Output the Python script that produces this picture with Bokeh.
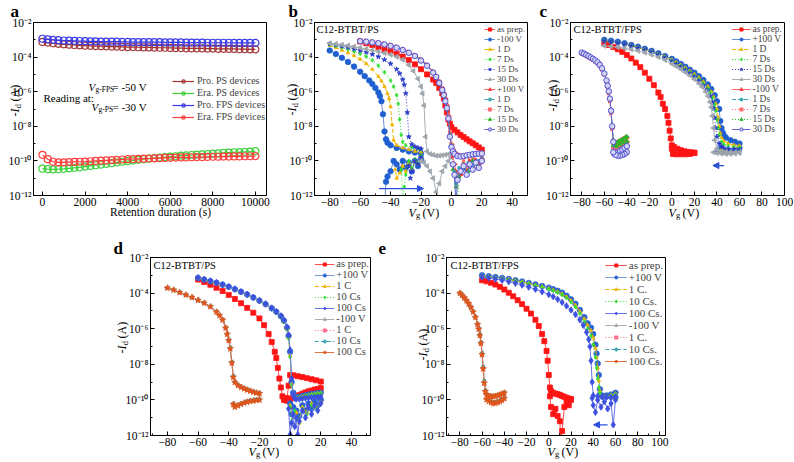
import math
from bokeh.plotting import figure
from bokeh.models import (Range1d, FixedTicker, CustomJSTickFormatter, Label, Legend,
                          LegendItem, Arrow, NormalHead, Spacer, GridBox)
from bokeh.layouts import row
from bokeh.embed import file_html
from bokeh.resources import INLINE

SERIF = "Liberation Serif"

# ---------------------------------------------------------------- data (log10 of -Id)
# panel a : retention
a_time = [0, 250, 500, 750, 1000, 1250, 1500, 1750, 2000, 2250, 2500, 2750, 3000, 3250, 3500,
          3750, 4000, 4250, 4500, 4750, 5000, 5250, 5500, 5750, 6000, 6250, 6500, 6750, 7000,
          7250, 7500, 7750, 8000, 8250, 8500, 8750, 9000, 9250, 9500, 9750, 10000]
a_pro_ps = [-3.12, -3.16, -3.2, -3.23, -3.26, -3.28, -3.3, -3.32, -3.34, -3.35, -3.36, -3.37, -3.38,
            -3.39, -3.4, -3.41, -3.42, -3.42, -3.43, -3.44, -3.44, -3.45, -3.46, -3.46, -3.47, -3.48,
            -3.48, -3.49, -3.49, -3.5, -3.5, -3.51, -3.51, -3.52, -3.52, -3.53, -3.53, -3.54, -3.54,
            -3.55, -3.55]
a_era_ps = [-10.45, -10.48, -10.49, -10.48, -10.46, -10.43, -10.4, -10.37, -10.33, -10.29, -10.25,
            -10.21, -10.17, -10.13, -10.09, -10.05, -10.01, -9.97, -9.94, -9.9, -9.87, -9.84, -9.81,
            -9.78, -9.75, -9.73, -9.7, -9.68, -9.66, -9.64, -9.62, -9.6, -9.58, -9.56, -9.54, -9.52,
            -9.5, -9.49, -9.47, -9.46, -9.44]
a_pro_fps = [-2.94, -2.97, -3.0, -3.02, -3.04, -3.05, -3.06, -3.07, -3.08, -3.09, -3.09, -3.1, -3.1,
             -3.11, -3.11, -3.12, -3.12, -3.13, -3.13, -3.13, -3.14, -3.14, -3.14, -3.15, -3.15,
             -3.15, -3.15, -3.16, -3.16, -3.16, -3.16, -3.17, -3.17, -3.17, -3.17, -3.17, -3.18,
             -3.18, -3.18, -3.18, -3.18]
a_era_fps = [-9.65, -9.9, -10.05, -10.08, -10.08, -10.07, -10.06, -10.05, -10.04, -10.02, -10.0,
             -9.98, -9.97, -9.95, -9.94, -9.92, -9.9, -9.89, -9.88, -9.87, -9.86, -9.85, -9.84,
             -9.83, -9.82, -9.81, -9.8, -9.8, -9.79, -9.78, -9.78, -9.77, -9.76, -9.76, -9.75,
             -9.75, -9.74, -9.74, -9.73, -9.73, -9.72]
a_labels = ["Pro. PS devices", "Era. PS devices", "Pro. FPS devices", "Era. FPS devices"]

# panel b : C12-BTBT/PS, retention after -100 V / +100 V
b_prep_vg = [-60, -56, -52, -48, -44, -40, -36, -32, -28, -24, -20, -16, -12, -10, -8, -6, -5, -4, -3,
             -2, -1, 0, 2, 4, 6, 8, 10, 12, 14, 16, 18, 20]
b_prep_lg = [-3.1, -3.2, -3.3, -3.42, -3.54, -3.66, -3.8, -3.97, -4.17, -4.42, -4.7, -5.0, -5.3, -5.5,
             -5.78, -6.1, -6.4, -6.8, -7.2, -7.6, -7.85, -8.05, -8.2, -8.35, -8.5, -8.62, -8.75, -8.87,
             -8.98, -9.1, -9.22, -9.35]
b_m100_vg = [-80, -76, -72, -68, -64, -60, -57, -54, -52, -50, -48, -47, -46, -45, -44, -43, -42, -40,
             -36, -32, -28, -24, -20]
b_m100_lg = [-3.62, -3.82, -4.04, -4.28, -4.55, -4.85, -5.1, -5.35, -5.55, -5.78, -6.05, -6.25, -6.55,
             -7.3, -8.3, -8.75, -8.95, -9.1, -9.25, -9.35, -9.45, -9.52, -9.58]
b_m100_ret = [(-20, -9.9), (-22, -10.3), (-24, -10.0), (-26, -10.6), (-28, -10.1), (-30, -10.4),
              (-32, -10.0), (-34, -10.5), (-36, -10.2), (-38, -10.0), (-40, -10.6), (-42, -10.9),
              (-43, -11.2), (-44, -12.5)]
b_1d_vg = [-80, -76, -72, -68, -64, -60, -56, -52, -48, -46, -44, -42, -41, -40, -39, -38, -36, -32,
           -28, -24, -20]
b_1d_lg = [-3.33, -3.45, -3.6, -3.75, -3.92, -4.12, -4.38, -4.7, -5.12, -5.38, -5.7, -6.1, -6.4,
           -6.85, -7.9, -8.8, -9.1, -9.25, -9.35, -9.45, -9.5]
b_1d_ret = [(-20, -9.8), (-22, -10.2), (-24, -10.0), (-26, -10.5), (-28, -10.1), (-30, -10.6),
            (-32, -10.3), (-34, -10.7), (-36, -11.0), (-37, -10.5)]
b_7d_vg = [-80, -76, -72, -68, -64, -60, -56, -52, -48, -44, -40, -38, -36, -35, -34, -33, -32, -30,
           -26, -22, -20]
b_7d_lg = [-3.27, -3.36, -3.45, -3.55, -3.67, -3.8, -3.97, -4.18, -4.5, -4.88, -5.35, -5.7, -6.2,
           -6.7, -7.6, -8.5, -8.9, -9.1, -9.22, -9.3, -9.33]
b_7d_ret = [(-20, -9.7), (-22, -10.1), (-24, -9.9), (-26, -10.4), (-28, -10.0), (-30, -10.8),
            (-31, -11.5), (-32, -12.5), (-33, -10.5)]
b_15d_vg = [-80, -76, -72, -68, -64, -60, -56, -52, -48, -44, -40, -36, -34, -32, -31, -30, -29, -28,
            -26, -24, -22, -20]
b_15d_lg = [-3.23, -3.3, -3.37, -3.44, -3.52, -3.62, -3.72, -3.84, -3.98, -4.15, -4.38, -4.7, -4.95,
            -5.3, -5.6, -6.1, -7.2, -8.6, -9.05, -9.18, -9.25, -9.3]
b_15d_ret = [(-20, -9.8), (-22, -10.2), (-24, -10.0), (-26, -10.6), (-27, -11.0), (-28, -10.3)]
b_30d_vg = [-80, -76, -72, -68, -64, -60, -56, -52, -48, -44, -40, -36, -32, -28, -25, -22, -20, -19,
            -18, -17, -16, -14, -12, -10, -8, -6, -4, -2, 0]
b_30d_lg = [-3.2, -3.24, -3.28, -3.33, -3.39, -3.46, -3.53, -3.6, -3.68, -3.77, -3.86, -3.98, -4.15,
            -4.45, -4.8, -5.25, -5.7, -6.1, -6.8, -8.6, -9.45, -9.6, -9.65, -9.7, -9.7, -9.68, -9.65,
            -9.62, -9.6]
b_30d_ret = [(0, -9.8), (-2, -10.0), (-4, -10.3), (-6, -10.6), (-8, -11.3), (-10, -11.8), (-12, -11.0),
             (-14, -10.6), (-16, -10.3), (-18, -10.1), (-20, -10.0)]
b_pos_vg = [-60, -56, -52, -48, -44, -40, -36, -32, -28, -24, -20, -16, -12, -10, -8, -6, -5, -4, -3,
            -2, -1, 0, 1, 2, 4, 6, 8, 10, 12, 14, 16, 18, 20]
b_p100_lg = [-3.05, -3.08, -3.12, -3.17, -3.24, -3.32, -3.43, -3.56, -3.72, -3.9, -4.15, -4.45, -4.85,
             -5.1, -5.4, -5.8, -6.1, -6.4, -6.8, -7.4, -8.4, -9.05, -9.35, -9.5, -9.65, -9.7, -9.72,
             -9.7, -9.68, -9.65, -9.62, -9.6, -9.58]
b_p100_ret = [(20, -9.9), (18, -10.2), (16, -9.95), (14, -10.4), (12, -10.0), (10, -10.6), (8, -10.2),
              (6, -10.8), (4, -11.0), (3, -10.6), (2, -10.2), (1, -9.7)]
b_p1d_lg = [-3.06, -3.09, -3.13, -3.18, -3.25, -3.33, -3.44, -3.57, -3.73, -3.92, -4.17, -4.47, -4.88,
            -5.13, -5.45, -5.85, -6.15, -6.45, -6.85, -7.45, -8.45, -9.1, -9.4, -9.55, -9.7, -9.75,
            -9.73, -9.7, -9.66, -9.63, -9.6, -9.58, -9.56]
b_p1d_ret = [(20, -9.8), (17, -10.0), (14, -10.3), (11, -10.1), (8, -10.5), (5, -10.4), (3, -11.3),
             (2, -10.6)]
b_p7d_lg = [-3.04, -3.07, -3.11, -3.16, -3.23, -3.31, -3.42, -3.55, -3.71, -3.89, -4.13, -4.43, -4.82,
            -5.07, -5.38, -5.77, -6.08, -6.38, -6.78, -7.35, -8.35, -9.0, -9.3, -9.45, -9.6, -9.68,
            -9.7, -9.68, -9.65, -9.62, -9.6, -9.57, -9.55]
b_p7d_ret = [(20, -9.75), (17, -10.1), (14, -9.9), (11, -10.4), (8, -10.0), (5, -10.7), (3, -11.0),
             (1, -10.2)]
b_p15d_lg = [-3.07, -3.1, -3.14, -3.19, -3.26, -3.34, -3.45, -3.58, -3.74, -3.93, -4.18, -4.49, -4.9,
             -5.16, -5.48, -5.88, -6.2, -6.5, -6.9, -7.5, -8.5, -9.1, -9.4, -9.6, -9.72, -9.76, -9.74,
             -9.71, -9.68, -9.64, -9.61, -9.59, -9.57]
b_p15d_ret = [(20, -9.9), (17, -10.2), (14, -10.0), (11, -10.6), (8, -10.2), (5, -10.9), (4, -12.5),
              (3, -11.5), (1, -10.5)]
b_p30d_lg = [-3.08, -3.11, -3.15, -3.2, -3.27, -3.35, -3.46, -3.59, -3.75, -3.94, -4.2, -4.5, -4.9,
             -5.15, -5.5, -5.9, -6.2, -6.55, -6.95, -7.55, -8.6, -9.2, -9.45, -9.6, -9.72, -9.75,
             -9.72, -9.68, -9.65, -9.62, -9.6, -9.58, -9.57]
b_p30d_ret = [(20, -10.0), (18, -10.4), (16, -10.1), (14, -10.5), (12, -10.2), (10, -10.8), (8, -10.3),
              (6, -10.6), (4, -11.1), (3, -12.5), (2, -10.8), (1, -10.2)]
b_labels = ["as prep.", "-100 V", "1 D", "7 Ds", "15 Ds", "30 Ds", "+100 V", "1 D", "7 Ds", "15 Ds",
            "30 Ds"]
b_arrow_vg = [-47.6, -18.4]
b_arrow_lg = -11.6

# panel c : C12-BTBT/FPS
c_prep_vg = [-60, -56, -52, -48, -44, -40, -36, -32, -28, -24, -20, -16, -12, -10, -8, -6, -4, -3, -2,
             -1, 0, 2, 5, 8, 11, 14, 17, 20]
c_prep_lg = [-3.2, -3.3, -3.42, -3.55, -3.7, -3.88, -4.08, -4.32, -4.58, -4.9, -5.25, -5.62, -6.05,
             -6.3, -6.7, -7.0, -7.4, -7.8, -8.25, -8.7, -9.1, -9.2, -9.3, -9.38, -9.44, -9.48, -9.5,
             -9.52]
c_prep_ret = [(20, -9.55), (16, -9.6), (12, -9.62), (8, -9.62), (4, -9.62), (1, -9.6), (0, -9.3)]
c_p100_vg = [-60, -54, -48, -42, -36, -30, -24, -18, -12, -6, 0, 4, 8, 12, 16, 20, 24, 28, 32, 35, 38,
             40, 42, 43, 44, 45, 46, 48, 52, 56, 60]
c_p100_lg = [-3.0, -3.05, -3.11, -3.2, -3.3, -3.4, -3.52, -3.64, -3.78, -3.94, -4.1, -4.25, -4.4,
             -4.56, -4.73, -4.9, -5.1, -5.32, -5.58, -5.85, -6.2, -6.55, -7.0, -7.7, -8.1, -8.35,
             -8.5, -8.65, -8.8, -8.9, -9.0]
c_p100_ret = [(60, -9.25), (56, -9.4), (52, -9.45), (48, -9.45), (45, -9.4), (43, -9.3)]
c_1d_vg = [-60, -54, -48, -42, -36, -30, -24, -18, -12, -6, 0, 4, 8, 12, 16, 20, 24, 28, 32, 35, 37,
           39, 40, 41, 42, 43, 44, 46, 50, 55, 60]
c_1d_lg = [-3.05, -3.1, -3.16, -3.24, -3.33, -3.43, -3.55, -3.67, -3.81, -3.97, -4.15, -4.3, -4.46,
           -4.62, -4.8, -4.98, -5.18, -5.42, -5.7, -6.0, -6.3, -6.7, -7.0, -7.5, -8.0, -8.4, -8.65,
           -8.85, -9.0, -9.08, -9.12]
c_1d_ret = [(60, -9.3), (55, -9.4), (50, -9.45), (46, -9.45), (43, -9.4)]
c_7d_vg = [-60, -54, -48, -42, -36, -30, -24, -18, -12, -6, 0, 4, 8, 12, 16, 20, 24, 28, 32, 34, 36,
           38, 39, 40, 41, 42, 44, 46, 50, 55, 60]
c_7d_lg = [-3.06, -3.11, -3.17, -3.25, -3.34, -3.45, -3.57, -3.7, -3.84, -4.0, -4.2, -4.36, -4.52,
           -4.7, -4.88, -5.07, -5.28, -5.52, -5.82, -6.05, -6.35, -6.75, -7.1, -7.6, -8.1, -8.5, -8.9,
           -9.05, -9.15, -9.2, -9.22]
c_7d_ret = [(60, -9.35), (55, -9.45), (50, -9.5), (45, -9.5), (42, -9.45)]
c_15d_vg = [-60, -54, -48, -42, -36, -30, -24, -18, -12, -6, 0, 4, 8, 12, 16, 20, 24, 28, 31, 34, 36,
            37, 38, 39, 40, 42, 44, 46, 50, 55, 60]
c_15d_lg = [-3.08, -3.13, -3.19, -3.27, -3.36, -3.47, -3.59, -3.72, -3.87, -4.04, -4.25, -4.41,
            -4.58, -4.76, -4.95, -5.15, -5.38, -5.65, -5.9, -6.25, -6.6, -6.95, -7.5, -8.1, -8.6,
            -9.0, -9.15, -9.25, -9.3, -9.32, -9.34]
c_15d_ret = [(60, -9.45), (55, -9.5), (50, -9.52), (45, -9.52), (40, -9.48)]
c_30d_vg = [-60, -54, -48, -42, -36, -30, -24, -18, -12, -6, 0, 4, 8, 12, 16, 20, 24, 27, 30, 32, 34,
            35, 36, 37, 38, 40, 44, 48, 52, 56, 60]
c_30d_lg = [-3.35, -3.38, -3.43, -3.49, -3.56, -3.64, -3.74, -3.86, -4.0, -4.17, -4.38, -4.54, -4.7,
            -4.88, -5.07, -5.28, -5.52, -5.73, -6.0, -6.25, -6.6, -6.9, -7.4, -8.1, -8.8, -9.3,
            -9.45, -9.48, -9.5, -9.5, -9.48]
c_30d_ret = [(60, -9.55), (56, -9.58), (52, -9.6), (48, -9.6), (44, -9.58), (40, -9.55), (37, -9.5)]
c_neg_vg = [-80, -78, -76, -74, -72, -70, -68, -66, -64, -62, -60, -58, -57, -56, -55, -54, -53, -52,
            -51, -50, -48, -46, -44, -42, -40]
c_m100_lg = [-3.77, -3.83, -3.9, -3.97, -4.05, -4.13, -4.22, -4.33, -4.48, -4.68, -4.98, -5.4, -5.7,
             -6.05, -6.5, -7.2, -8.1, -8.9, -9.1, -9.0, -8.95, -8.88, -8.8, -8.72, -8.65]
c_m100_ret = [(-40, -8.9), (-42, -9.0), (-44, -9.1), (-46, -9.2), (-48, -9.3), (-50, -9.35), (-52, -9.3)]
c_m1d_lg = [-3.76, -3.82, -3.89, -3.96, -4.04, -4.12, -4.21, -4.32, -4.47, -4.67, -4.97, -5.38, -5.68,
            -6.02, -6.45, -7.15, -8.05, -8.85, -9.05, -8.98, -8.92, -8.85, -8.78, -8.7, -8.62]
c_m1d_ret = [(-40, -8.95), (-43, -9.05), (-46, -9.15), (-49, -9.25), (-52, -9.2)]
c_m7d_lg = [-3.78, -3.84, -3.91, -3.98, -4.06, -4.14, -4.23, -4.34, -4.5, -4.7, -5.0, -5.42, -5.72,
            -6.08, -6.55, -7.25, -8.15, -8.95, -9.15, -9.05, -8.98, -8.9, -8.82, -8.74, -8.67]
c_m7d_ret = [(-40, -9.0), (-43, -9.1), (-46, -9.2), (-49, -9.3), (-52, -9.25)]
c_m15d_lg = [-3.75, -3.81, -3.88, -3.95, -4.03, -4.11, -4.2, -4.31, -4.46, -4.66, -4.96, -5.37, -5.67,
             -6.0, -6.42, -7.1, -8.0, -8.8, -9.0, -8.95, -8.9, -8.83, -8.76, -8.68, -8.6]
c_m15d_ret = [(-40, -8.85), (-43, -8.95), (-46, -9.05), (-49, -9.15), (-52, -9.1)]
c_m30d_lg = [-3.74, -3.8, -3.87, -3.94, -4.02, -4.1, -4.19, -4.3, -4.45, -4.65, -4.95, -5.35, -5.65,
             -5.98, -6.4, -7.1, -8.0, -8.9, -9.6, -9.55, -9.5, -9.42, -9.35, -9.25, -9.15]
c_m30d_ret = [(-40, -9.5), (-42, -9.6), (-44, -9.65), (-46, -9.7), (-48, -9.7), (-50, -9.65), (-52, -9.5)]
c_labels = ["as prep.", "+100 V", "1 D", "7 Ds", "15 Ds", "30 Ds", "-100 V", "1 Ds", "7 Ds", "15 Ds",
            "30 Ds"]
c_arrow_vg = [46.4, 36.4]
c_arrow_lg = -10.27

# panel d : C12-BTBT/PS, cycling
d_prep_vg = [-60, -56, -52, -48, -44, -40, -36, -32, -28, -24, -20, -17, -14, -12, -10, -9, -8, -7, -6,
             -5, -4, -2, 0, 2, 4, 6, 8, 10, 12, 14, 16, 18, 20]
d_prep_lg = [-3.24, -3.38, -3.53, -3.7, -3.88, -4.1, -4.33, -4.57, -4.83, -5.1, -5.42, -5.8, -6.3,
             -6.75, -7.3, -7.65, -8.2, -8.8, -9.3, -9.8, -10.0, -10.05, -10.0, -9.88, -9.8, -9.72,
             -9.65, -9.58, -9.52, -9.47, -9.42, -9.38, -9.34]
d_prep_ret = [(20, -8.97), (17, -8.9), (14, -8.84), (11, -8.78), (8, -8.72), (5, -8.67), (2, -8.62),
              (0, -8.6), (-1, -9.2), (-2, -9.9)]
d_pos_vg = [-60, -56, -52, -48, -44, -40, -36, -32, -28, -24, -20, -16, -12, -9, -6, -4, -2, -1, 0, 1,
            2, 3, 4, 6, 8, 10, 12, 14, 16, 18, 20]
d_p100_lg = [-3.15, -3.24, -3.33, -3.42, -3.53, -3.65, -3.78, -3.93, -4.08, -4.25, -4.43, -4.62, -4.85,
             -5.05, -5.3, -5.55, -5.95, -6.4, -7.3, -9.0, -9.6, -9.8, -9.85, -9.82, -9.78, -9.74, -9.7,
             -9.67, -9.64, -9.62, -9.6]
d_p100_ret = [(20, -10.0), (18, -10.3), (16, -10.1), (14, -10.5), (12, -10.2), (10, -10.6), (8, -10.3),
              (6, -10.9), (4, -10.6), (2, -10.4), (1, -10.8), (0, -10.2)]
d_1c_lg = [-3.16, -3.25, -3.34, -3.43, -3.54, -3.66, -3.79, -3.94, -4.09, -4.26, -4.45, -4.64, -4.87,
           -5.07, -5.33, -5.58, -6.0, -6.5, -7.5, -9.1, -9.65, -9.82, -9.86, -9.83, -9.8, -9.76, -9.72,
           -9.69, -9.66, -9.63, -9.61]
d_1c_ret = [(20, -10.1), (17, -10.4), (14, -10.2), (11, -10.7), (8, -10.4), (6, -11.3), (4, -10.7),
            (2, -11.0), (0, -10.3)]
d_10c_lg = [-3.17, -3.26, -3.35, -3.44, -3.55, -3.67, -3.8, -3.95, -4.1, -4.27, -4.46, -4.66, -4.9,
            -5.1, -5.36, -5.62, -6.05, -6.55, -7.6, -9.2, -9.7, -9.84, -9.87, -9.85, -9.82, -9.78,
            -9.74, -9.71, -9.68, -9.65, -9.63]
d_10c_ret = [(20, -10.2), (17, -10.5), (14, -10.3), (11, -10.8), (8, -10.5), (5, -11.1), (3, -10.6),
             (1, -11.2), (0, -10.4)]
d_100c_lg = [-3.14, -3.23, -3.32, -3.41, -3.52, -3.64, -3.77, -3.92, -4.07, -4.24, -4.42, -4.61,
             -4.84, -5.04, -5.28, -5.52, -5.9, -6.35, -7.2, -8.8, -9.7, -9.9, -9.95, -9.95, -9.92,
             -9.9, -9.88, -9.86, -9.85, -9.84, -9.83]
d_100c_ret = [(20, -10.2), (18, -10.6), (16, -10.3), (14, -10.8), (12, -10.4), (10, -11.0), (8, -10.6),
              (6, -11.2), (5, -11.95), (4, -11.0), (3, -11.5), (2, -10.8), (1, -11.3), (0, -11.95),
              (-1, -10.5)]
d_neg_vg = [-80, -76, -72, -68, -64, -60, -56, -52, -48, -46, -44, -42, -41, -40, -39, -38, -37, -36,
            -34, -32, -30, -28, -26, -24, -22, -20]
d_m100_lg = [-3.71, -3.82, -3.96, -4.1, -4.24, -4.4, -4.56, -4.75, -5.05, -5.25, -5.5, -5.95, -6.3,
             -6.65, -7.1, -7.9, -8.7, -9.0, -9.18, -9.28, -9.36, -9.43, -9.49, -9.55, -9.6, -9.63]
d_m100_ret = [(-20, -9.98), (-22, -10.0), (-24, -10.03), (-26, -10.06), (-28, -10.1), (-30, -10.15),
              (-32, -10.22), (-34, -10.3), (-36, -10.38), (-37, -10.2)]
d_m1c_lg = [-3.72, -3.83, -3.97, -4.11, -4.25, -4.41, -4.57, -4.77, -5.07, -5.27, -5.53, -5.98, -6.33,
            -6.7, -7.15, -7.95, -8.75, -9.02, -9.2, -9.3, -9.38, -9.45, -9.51, -9.56, -9.61, -9.64]
d_m1c_ret = [(-20, -10.0), (-23, -10.02), (-26, -10.05), (-29, -10.12), (-32, -10.2), (-35, -10.32),
             (-37, -10.25)]
d_m10c_lg = [-3.7, -3.81, -3.95, -4.09, -4.23, -4.39, -4.55, -4.74, -5.03, -5.23, -5.48, -5.92, -6.27,
             -6.62, -7.05, -7.85, -8.65, -8.98, -9.16, -9.26, -9.34, -9.41, -9.47, -9.53, -9.58, -9.61]
d_m10c_ret = [(-20, -9.95), (-23, -9.98), (-26, -10.02), (-29, -10.08), (-32, -10.18), (-35, -10.3),
              (-37, -10.22)]
d_m100c_lg = [-3.71, -3.82, -3.96, -4.1, -4.24, -4.4, -4.56, -4.76, -5.06, -5.26, -5.51, -5.96, -6.31,
              -6.66, -7.12, -7.92, -8.72, -9.01, -9.19, -9.29, -9.37, -9.44, -9.5, -9.56, -9.61, -9.64]
d_m100c_ret = [(-20, -10.0), (-22, -10.02), (-24, -10.05), (-26, -10.08), (-28, -10.12), (-30, -10.17),
               (-32, -10.24), (-34, -10.32), (-36, -10.4), (-37, -10.25)]
d_labels = ["as prep.", "+100 V", "1 C", "10 Cs", "100 Cs", "-100 V", "1 C", "10 Cs", "100 Cs"]

# panel e : C12-BTBT/FPS, cycling
e_prep_vg = [-60, -56, -52, -48, -44, -40, -36, -32, -28, -24, -20, -16, -12, -9, -6, -4, -2, -1, 0, 1,
             2, 4, 6, 8, 10, 12, 14, 16, 18, 20]
e_prep_lg = [-3.28, -3.34, -3.42, -3.52, -3.65, -3.8, -3.98, -4.18, -4.4, -4.62, -4.88, -5.15, -5.5,
             -5.85, -6.3, -6.7, -7.25, -7.8, -8.6, -9.3, -9.5, -9.6, -9.65, -9.68, -9.72, -9.78, -9.83,
             -9.88, -9.92, -9.95]
e_prep_ret = [(20, -10.0), (18, -10.3), (16, -10.1), (14, -10.4), (12, -11.75), (11, -12.5), (10, -11.2),
              (8, -10.9), (6, -10.5), (4, -10.8), (2, -10.4), (1, -9.8)]
e_pos_vg = [-60, -54, -48, -42, -36, -30, -24, -18, -12, -6, 0, 4, 8, 12, 16, 20, 24, 28, 32, 35, 38,
            40, 42, 43, 44, 45, 46, 48, 52, 56, 60]
e_p100_lg = [-3.0, -3.05, -3.1, -3.15, -3.21, -3.28, -3.35, -3.43, -3.51, -3.6, -3.7, -3.78, -3.87,
             -3.98, -4.15, -4.35, -4.6, -4.95, -5.35, -5.7, -5.95, -6.3, -6.9, -7.4, -7.95, -8.6, -9.4,
             -9.75, -9.8, -9.83, -9.86]
e_p100_ret = [(60, -9.6), (56, -9.7), (52, -9.75), (48, -9.8), (46, -9.7)]
e_1c_lg = [-3.02, -3.07, -3.12, -3.17, -3.23, -3.3, -3.37, -3.45, -3.54, -3.63, -3.74, -3.82, -3.92,
           -4.04, -4.21, -4.42, -4.68, -5.03, -5.45, -5.8, -6.1, -6.5, -7.1, -7.6, -8.2, -8.9, -9.5,
           -9.78, -9.82, -9.85, -9.88]
e_1c_ret = [(60, -9.65), (56, -9.72), (52, -9.78), (48, -9.82), (45, -9.75)]
e_10c_lg = [-3.04, -3.09, -3.14, -3.19, -3.25, -3.32, -3.4, -3.48, -3.57, -3.67, -3.78, -3.87, -3.97,
            -4.1, -4.28, -4.5, -4.78, -5.15, -5.6, -6.0, -6.4, -6.9, -7.6, -8.2, -8.8, -9.3, -9.6,
            -9.8, -9.84, -9.86, -9.88]
e_10c_ret = [(60, -9.7), (56, -9.75), (52, -9.8), (48, -9.85), (44, -9.8)]
e_100c_vg = [-60, -54, -48, -42, -36, -30, -24, -18, -12, -6, 0, 4, 8, 12, 16, 20, 24, 28, 31, 34, 36,
             37, 38, 39, 40, 44, 48, 52, 56, 60]
e_100c_lg = [-3.1, -3.15, -3.21, -3.28, -3.36, -3.45, -3.55, -3.66, -3.78, -3.92, -4.08, -4.2, -4.35,
             -4.52, -4.72, -4.95, -5.2, -5.5, -5.8, -6.2, -6.6, -7.0, -7.8, -9.0, -9.75, -9.8, -9.82,
             -9.85, -9.85, -9.82]
e_100c_ret = [(60, -10.0), (58, -11.4), (56, -10.2), (53, -10.5), (50, -10.1), (47, -10.4), (44, -10.0),
              (42, -10.7), (40, -10.3), (39, -9.9)]
e_neg_vg = [-80, -78, -76, -74, -72, -70, -68, -66, -64, -63, -62, -61, -60, -59, -58, -57, -56, -54,
            -52, -50, -48, -46, -44, -42, -40]
e_m100_lg = [-4.0, -4.12, -4.26, -4.42, -4.6, -4.8, -5.05, -5.35, -5.75, -6.0, -6.35, -6.8, -7.4, -8.2,
             -9.0, -9.5, -9.7, -9.78, -9.8, -9.8, -9.78, -9.74, -9.7, -9.65, -9.6]
e_m100_ret = [(-40, -9.9), (-42, -10.0), (-44, -10.05), (-46, -10.1), (-48, -10.15), (-50, -10.15),
              (-52, -10.1), (-54, -10.05), (-56, -9.95)]
e_m1c_lg = [-4.01, -4.13, -4.27, -4.43, -4.61, -4.82, -5.07, -5.38, -5.78, -6.04, -6.4, -6.85, -7.5,
            -8.3, -9.1, -9.55, -9.72, -9.8, -9.82, -9.82, -9.8, -9.76, -9.72, -9.67, -9.62]
e_m1c_ret = [(-40, -9.95), (-43, -10.05), (-46, -10.12), (-49, -10.18), (-52, -10.12), (-55, -10.0)]
e_m10c_lg = [-3.99, -4.11, -4.25, -4.41, -4.59, -4.79, -5.04, -5.33, -5.72, -5.97, -6.3, -6.75, -7.35,
             -8.1, -8.9, -9.45, -9.68, -9.76, -9.78, -9.78, -9.76, -9.72, -9.68, -9.63, -9.58]
e_m10c_ret = [(-40, -9.85), (-43, -9.95), (-46, -10.05), (-49, -10.12), (-52, -10.08), (-55, -9.98)]
e_m100c_lg = [-4.0, -4.12, -4.26, -4.42, -4.6, -4.81, -5.06, -5.36, -5.76, -6.02, -6.38, -6.82, -7.45,
              -8.25, -9.05, -9.52, -9.71, -9.79, -9.81, -9.81, -9.79, -9.75, -9.71, -9.66, -9.61]
e_m100c_ret = [(-40, -9.92), (-42, -10.02), (-44, -10.08), (-46, -10.14), (-48, -10.18), (-50, -10.2),
               (-52, -10.14), (-54, -10.08), (-56, -9.98)]
e_labels = ["as prep.", "+100 V", "1 C.", "10 Cs.", "100 Cs.", "-100 V", "1 C.", "10 Cs.", "100 Cs."]
e_arrow_vg = [52.9, 40.3]
e_arrow_lg = -11.4

Y_TICKS = [1e-12, 1e-10, 1e-8, 1e-6, 1e-4, 1e-2]
Y_MINOR = [1e-11, 1e-9, 1e-7, 1e-5, 1e-3]

# ---------------------------------------------------------------- styles
PI2 = math.pi / 2
ST_BC = [
    dict(c="#ff1414", lc="#ff4c4c", m="square", s=5, d="solid", f=None, a=0),
    dict(c="#1f5fd0", lc="#6a8fd8", m="circle", s=5.5, d="solid", f=None, a=0),
    dict(c="#f0b400", lc="#f0b400", m="triangle", s=3.5, d="4 2", f=None, a=0),
    dict(c="#2ee02e", lc="#2ee02e", m="diamond", s=4, d="1 2", f=None, a=0),
    dict(c="#2a3cc8", lc="#2a3cc8", m="star", s=5, d="1 2", f=None, a=0),
    dict(c="#9ea6ac", lc="#a8b0b4", m="triangle", s=5, d="solid", f=None, a=PI2),
    dict(c="#ff3030", lc="#ff6464", m="triangle", s=5, d="solid", f=None, a=-PI2),
    dict(c="#3aa8b0", lc="#3aa8b0", m="circle", s=3, d="4 2", f=None, a=0),
    dict(c="#ff6a6a", lc="#ff6a6a", m="square", s=2.5, d="1 2", f=None, a=0),
    dict(c="#22b822", lc="#22b822", m="triangle", s=4, d="1 2", f=None, a=0),
    dict(c="#5050d0", lc="#6464d8", m="circle", s=5.5, d="solid", f="#d4d4f4", a=0),
]
ST_DE = [
    dict(c="#ff1414", lc="#ff4c4c", m="square", s=5, d="solid", f=None, a=0),
    dict(c="#2a62d6", lc="#7a9ae0", m="circle", s=5.5, d="solid", f=None, a=0),
    dict(c="#f0b400", lc="#f0b400", m="triangle", s=3.5, d="4 2", f=None, a=0),
    dict(c="#2ee02e", lc="#2ee02e", m="diamond", s=4, d="1 2", f=None, a=0),
    dict(c="#3d50e0", lc="#6474e4", m="diamond", s=6.5, d="solid", f=None, a=0),
    dict(c="#9ea6ac", lc="#a8b0b4", m="triangle", s=5, d="solid", f=None, a=PI2),
    dict(c="#ff6a8a", lc="#ff6a8a", m="square", s=2.5, d="1 2", f=None, a=0),
    dict(c="#3aa8b0", lc="#3aa8b0", m="circle", s=3, d="4 2", f=None, a=0),
    dict(c="#e0561a", lc="#e07040", m="star", s=6.5, d="solid", f=None, a=0),
]

SUP_JS = """
const m = {'-':'\u207b','0':'\u2070','1':'\u00b9','2':'\u00b2','3':'\u00b3','4':'\u2074',
           '5':'\u2075','6':'\u2076','7':'\u2077','8':'\u2078','9':'\u2079'};
const e = Math.round(Math.log10(tick));
return '10' + String(e).split('').map(c => m[c]).join('');
"""


def make_fig(w, h, bl, br, bt, bb, xr, xt, xm):
    p = figure(width=w, height=h, x_range=Range1d(*xr), y_range=Range1d(1e-12, 1e-2),
               y_axis_type="log", output_backend="svg", toolbar_location=None,
               min_border_left=bl, min_border_right=br, min_border_top=bt, min_border_bottom=bb)
    p.grid.visible = False
    p.outline_line_color = "black"
    p.outline_line_width = 1
    p.xaxis.ticker = FixedTicker(ticks=xt, minor_ticks=xm)
    p.yaxis.ticker = FixedTicker(ticks=Y_TICKS, minor_ticks=Y_MINOR)
    p.yaxis.formatter = CustomJSTickFormatter(code=SUP_JS)
    for ax in (p.xaxis[0], p.yaxis[0]):
        ax.major_tick_in = 4
        ax.major_tick_out = 0
        ax.minor_tick_in = 2
        ax.minor_tick_out = 0
        ax.major_label_text_font = SERIF
        ax.major_label_text_font_size = "11.5px"
        ax.major_label_text_color = "black"
        ax.axis_line_color = "black"
        ax.major_tick_line_color = "black"
        ax.minor_tick_line_color = "black"
        ax.major_label_standoff = 2
    return p


# transparent overlay figure spanning the whole page, for free texts (page pixel coords)
ov = figure(width=794, height=462, x_range=Range1d(0, 794), y_range=Range1d(462, 0),
            output_backend="svg", toolbar_location=None, x_axis_location=None,
            y_axis_location=None, min_border=0, min_border_left=0, min_border_right=0,
            min_border_top=0, min_border_bottom=0)
ov.grid.visible = False
ov.outline_line_alpha = 0
ov.background_fill_alpha = 0
ov.border_fill_alpha = 0


def put(px, py, text, size=11.0, style="normal", align="left", angle=0.0):
    ov.add_layout(Label(x=px, y=py, text=text, text_font=SERIF, text_font_size=f"{size}px",
                        text_font_style=style, text_align=align, text_baseline="middle",
                        angle=angle, text_color="black"))


def ylab(xc, ybot):
    put(xc, ybot, "-I", 12, "italic", angle=PI2)
    put(xc + 3, ybot - 8, "d", 9, angle=PI2)
    put(xc, ybot - 15, "(A)", 12, angle=PI2)


def xlab(x0, yc):
    put(x0, yc, "V", 12, "italic")
    put(x0 + 7.5, yc + 2.5, "g", 8.5)
    put(x0 + 14, yc, "(V)", 12)


def draw(p, pts, st):
    xs = [v for v, _ in pts]
    ys = [10.0 ** l for _, l in pts]
    r1 = p.line(xs, ys, line_color=st["lc"], line_width=1.0, line_dash=st["d"])
    if st["f"] is None:
        r2 = p.scatter(xs, ys, marker=st["m"], size=st["s"], line_color=st["c"], fill_color=st["c"],
                       angle=st["a"], line_width=0.8)
    else:
        r2 = p.scatter(xs, ys, marker=st["m"], size=st["s"], line_color=st["c"], fill_color=st["f"],
                       angle=st["a"], line_width=1.0)
    return [r1, r2]


def legend(p, labels, rends, font, gw, margin):
    leg = Legend(items=[LegendItem(label=l, renderers=r) for l, r in zip(labels, rends)],
                 location="top_right", label_text_font=SERIF, label_text_font_size=font,
                 spacing=0, glyph_width=gw, glyph_height=8, label_height=8, label_standoff=2,
                 padding=0, margin=margin, border_line_alpha=0, background_fill_alpha=0)
    p.add_layout(leg)


def seg(vg, lg, ret=()):
    return list(zip(vg, lg)) + list(ret)


def arrow(p, vg, lg):
    p.add_layout(Arrow(x_start=vg[0], y_start=10 ** lg, x_end=vg[1], y_end=10 ** lg,
                       line_color="#2a50d8", line_width=1.3,
                       end=NormalHead(size=6, fill_color="#2a50d8", line_color="#2a50d8")))


# ---------------------------------------------------------------- panel a
fa = make_fig(282, 240, 33, 16, 22, 45, (-420, 10520), [0, 2000, 4000, 6000, 8000, 10000],
              [1000, 3000, 5000, 7000, 9000])
a_series = [a_pro_ps, a_era_ps, a_pro_fps, a_era_fps]
a_colors = ["#a23434", "#3cd03c", "#3a3ae6", "#ff3c3c"]
a_items = []
for ser, col, lab in zip(a_series, a_colors, a_labels):
    ys = [10.0 ** v for v in ser]
    r1 = fa.line(a_time, ys, line_color=col, line_width=1.2)
    r2 = fa.scatter(a_time, ys, marker="circle", size=7, line_color=col, fill_alpha=0, line_width=1.2)
    a_items.append(LegendItem(label=lab, renderers=[r1, r2]))
fa.add_layout(Legend(items=a_items, location=(139, 73), label_text_font=SERIF,
                     label_text_font_size="10px", spacing=1, glyph_width=22, glyph_height=8,
                     label_height=8, label_standoff=3, padding=0, margin=0, border_line_alpha=0,
                     background_fill_alpha=0))
put(10, 11, "a", 17, "bold")
put(43, 97, "Reading at:", 11)
put(88, 86, "V", 11, "italic")
put(95, 89, "g-FPS", 7.5)
put(112, 86, "= -50 V", 11)
put(91, 106, "V", 11, "italic")
put(98, 109, "g-PS", 7.5)
put(112, 106, "= -30 V", 11)
put(160, 211, "Retention duration (s)", 11.5, align="center")
ylab(14, 116)

# ---------------------------------------------------------------- panel b
fb = make_fig(254, 240, 32, 9, 22, 45, (-90, 50), [-80, -60, -40, -20, 0, 20, 40],
              [-90, -70, -50, -30, -10, 10, 30, 50])
b_curves = [seg(b_prep_vg, b_prep_lg), seg(b_m100_vg, b_m100_lg, b_m100_ret),
            seg(b_1d_vg, b_1d_lg, b_1d_ret), seg(b_7d_vg, b_7d_lg, b_7d_ret),
            seg(b_15d_vg, b_15d_lg, b_15d_ret), seg(b_30d_vg, b_30d_lg, b_30d_ret),
            seg(b_pos_vg, b_p100_lg, b_p100_ret), seg(b_pos_vg, b_p1d_lg, b_p1d_ret),
            seg(b_pos_vg, b_p7d_lg, b_p7d_ret), seg(b_pos_vg, b_p15d_lg, b_p15d_ret),
            seg(b_pos_vg, b_p30d_lg, b_p30d_ret)]
b_rends = [draw(fb, c, s) for c, s in zip(b_curves, ST_BC)]
legend(fb, b_labels, b_rends, "9px", 11, 2)
arrow(fb, b_arrow_vg, b_arrow_lg)
put(288, 11, "b", 17, "bold")
put(316, 29, "C12-BTBT/PS", 10.5)
xlab(408, 212)
ylab(291, 115)

# ---------------------------------------------------------------- panel c
fc = make_fig(258, 240, 34, 10, 22, 45, (-90, 100),
              [-80, -60, -40, -20, 0, 20, 40, 60, 80, 100],
              [-90, -70, -50, -30, -10, 10, 30, 50, 70, 90])
c_curves = [seg(c_prep_vg, c_prep_lg, c_prep_ret), seg(c_p100_vg, c_p100_lg, c_p100_ret),
            seg(c_1d_vg, c_1d_lg, c_1d_ret), seg(c_7d_vg, c_7d_lg, c_7d_ret),
            seg(c_15d_vg, c_15d_lg, c_15d_ret), seg(c_30d_vg, c_30d_lg, c_30d_ret),
            seg(c_neg_vg, c_m100_lg, c_m100_ret), seg(c_neg_vg, c_m1d_lg, c_m1d_ret),
            seg(c_neg_vg, c_m7d_lg, c_m7d_ret), seg(c_neg_vg, c_m15d_lg, c_m15d_ret),
            seg(c_neg_vg, c_m30d_lg, c_m30d_ret)]
c_rends = [draw(fc, c, s) for c, s in zip(c_curves, ST_BC)]
legend(fc, c_labels, c_rends, "9.5px", 19, 2)
arrow(fc, c_arrow_vg, c_arrow_lg)
put(539, 11, "c", 17, "bold")
put(573, 29, "C12-BTBT/FPS", 10.5)
xlab(668, 212)
ylab(552, 111)

# ---------------------------------------------------------------- panel d
fd = make_fig(267, 222, 42, 5, 17, 27, (-91, 52.4), [-80, -60, -40, -20, 0, 20, 40],
              [-90, -70, -50, -30, -10, 10, 30, 50])
d_curves = [seg(d_prep_vg, d_prep_lg, d_prep_ret), seg(d_pos_vg, d_p100_lg, d_p100_ret),
            seg(d_pos_vg, d_1c_lg, d_1c_ret), seg(d_pos_vg, d_10c_lg, d_10c_ret),
            seg(d_pos_vg, d_100c_lg, d_100c_ret), seg(d_neg_vg, d_m100_lg, d_m100_ret),
            seg(d_neg_vg, d_m1c_lg, d_m1c_ret), seg(d_neg_vg, d_m10c_lg, d_m10c_ret),
            seg(d_neg_vg, d_m100c_lg, d_m100c_ret)]
d_rends = [draw(fd, c, s) for c, s in zip(d_curves, ST_DE)]
legend(fd, d_labels, d_rends, "10.5px", 20, 1)
put(113, 248, "d", 17, "bold")
put(153, 265, "C12-BTBT/PS", 10.5)
xlab(248, 451)
ylab(121, 353)

# ---------------------------------------------------------------- panel e
fe = make_fig(300, 222, 71, 10, 17, 27, (-92, 105),
              [-80, -60, -40, -20, 0, 20, 40, 60, 80, 100],
              [-90, -70, -50, -30, -10, 10, 30, 50, 70, 90])
e_curves = [seg(e_prep_vg, e_prep_lg, e_prep_ret), seg(e_pos_vg, e_p100_lg, e_p100_ret),
            seg(e_pos_vg, e_1c_lg, e_1c_ret), seg(e_pos_vg, e_10c_lg, e_10c_ret),
            seg(e_100c_vg, e_100c_lg, e_100c_ret), seg(e_neg_vg, e_m100_lg, e_m100_ret),
            seg(e_neg_vg, e_m1c_lg, e_m1c_ret), seg(e_neg_vg, e_m10c_lg, e_m10c_ret),
            seg(e_neg_vg, e_m100c_lg, e_m100c_ret)]
e_rends = [draw(fe, c, s) for c, s in zip(e_curves, ST_DE)]
legend(fe, e_labels, e_rends, "11px", 22, 2)
arrow(fe, e_arrow_vg, e_arrow_lg)
put(378, 248, "e", 17, "bold")
put(450, 265, "C12-BTBT/FPS", 10.5)
xlab(547, 451)
ylab(422, 360)

top_row = row(fa, fb, fc)
bottom_row = row(Spacer(width=108, height=222), fd, fe)
layout = GridBox(children=[(top_row, 0, 0), (bottom_row, 1, 0), (ov, 0, 0, 2, 1)])
open("out.html", "w").write(file_html(layout, INLINE))
